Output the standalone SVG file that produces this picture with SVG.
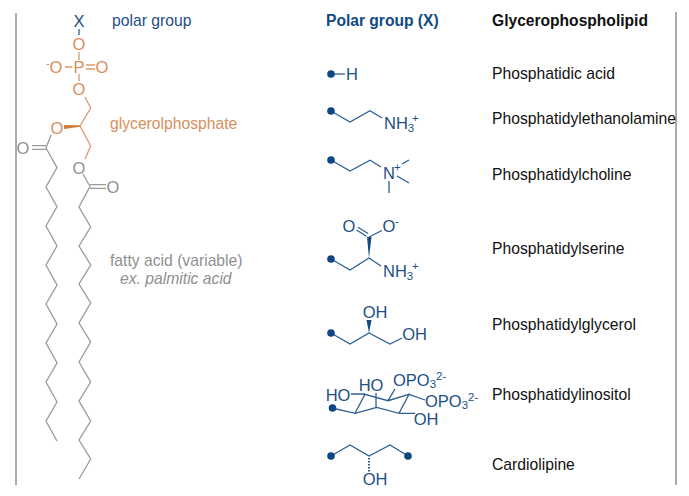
<svg xmlns="http://www.w3.org/2000/svg" width="689" height="496" viewBox="0 0 689 496">
<style>
text{font-family:"Liberation Sans",Arial,sans-serif;font-size:15.7px}
.b{fill:#1d4f85}.o{fill:#d98e5c}.g{fill:#8f8f8f}.k{fill:#111}
.at{font-size:16.5px;text-anchor:middle}
.mol{font-size:16.5px}
.sup{font-size:11.5px}
.sub{font-size:11.5px}
.lb,.lo,.lg{fill:none;stroke-width:1.3;stroke-linejoin:miter}
.lb{stroke:#2f5f90}.lo{stroke:#dc9a6c}.lg{stroke:#9a9a9a}
.d{fill:#0f4583}
.head{font-weight:bold;font-size:15.6px}
</style>
<rect width="689" height="496" fill="#fff"/>
<g id="connectors">
<path d="M16 13V485M676 12V485" fill="none" stroke="#808080" stroke-width="1.3"/>
<path class="lb" d="M79 29V35"/>
<path class="lo" d="M79 52V60M79 74V81M65 67H72M86 65H95M86 69H95M85 97L90.700 108L80 126L90.700 146L85 159"/>
<path d="M80 125.200L64 125L64 129L80 126.800Z" fill="#d07a3c"/>
<path class="lg" d="M51 135L46 148M32 145.700H46M32 149.300H46M46 148L57 167.600L46 187L57 206.800L46 226L57 246L46 265L57 285L46 304L57 324L46 343L57 363L46 382L57 402L46 421L57 441"/>
<path class="lg" d="M83 174L90 186.500M90 184.700H106M90 188.300H106M90 186.500L79 207L90.700 227L79 246L90.700 265L79 284L90.700 303L79 323L90.700 342L79 362L90.700 382L79 401L90.700 421L79 440L90.700 459L79 479"/>
<path class="lb" d="M331 74H345"/>
<path class="lb" d="M331 111L350 122L370 110.700L382 118"/>
<path class="lb" d="M331 160L350 171L370 160.300L381 167M402 164L409 160M397 176L409 183M389 181V193"/>
<path class="lb" d="M331 259L350 270L369 258L381 266M369 237L382 230.500M358 227.300L368 233.500M356.500 230L366.500 236.200"/>
<path d="M369 258L367 237L371.500 237Z" fill="#134a85"/>
<path class="lb" d="M331 333L350 344L369 333L390 344L402 338"/>
<path d="M369 333L366.500 320H371.500Z" fill="#134a85"/>
<path class="lb" d="M332 408L355 413.300L365 394.300L388 400.700L409 394.300L399 413.300L376.700 407.300L355 413.300M351 394H365M376 393V407M388 400.700L395 389M409 394.300L425 400M399 413.300H415"/>
<path class="lb" d="M331 456L350 445L369 456L390 445L408 456"/>
<path d="M369 458V459.500M369 461V462.500M369 464V465.500M369 467V468.500M369 470V471.500" stroke="#2f5f90" stroke-width="2" fill="none"/>
</g>
<g id="phospho-head">
<text class="at b" x="79" y="27">X</text>
<text class="at o" x="79" y="50">O</text>
<text class="at o" x="79" y="73">P</text>
<text class="at o" x="56" y="73">O</text>
<text class="o sup" x="46" y="67">-</text>
<text class="at o" x="102" y="73">O</text>
<text class="at o" x="79" y="95">O</text>
<text class="at o" x="57" y="134">O</text>
<text class="at g" x="23" y="154">O</text>
<text class="at g" x="79" y="174">O</text>
<text class="at g" x="113" y="193">O</text>
</g>
<g id="legend-left">
<text class="b" x="112" y="25.500">polar group</text>
<text class="o" x="110" y="129">glycerolphosphate</text>
<text class="g" x="110" y="266">fatty acid (variable)</text>
<text class="g" x="120" y="284" font-style="italic">ex. palmitic acid</text>
</g>
<g id="headers">
<text class="head" x="326" y="26" fill="#0f4a85">Polar group (X)</text>
<text class="head k" x="492" y="26">Glycerophospholipid</text>
</g>
<g id="phosphatidic-acid">
<circle class="d" cx="331" cy="74" r="3.800"/>
<text class="at b" x="352" y="80">H</text>
<text class="k" x="492" y="79">Phosphatidic acid</text>
</g>
<g id="phosphatidylethanolamine">
<circle class="d" cx="331" cy="111" r="3.800"/>
<text class="b mol" x="384" y="129">NH<tspan class="sub" dy="3">3</tspan></text>
<text class="b sup" x="412" y="122">+</text>
<text class="k" x="492" y="124">Phosphatidylethanolamine</text>
</g>
<g id="phosphatidylcholine">
<circle class="d" cx="331" cy="160" r="3.800"/>
<text class="at b" x="389" y="179">N</text>
<text class="b sup" x="394" y="171">+</text>
<text class="k" x="492" y="180">Phosphatidylcholine</text>
</g>
<g id="phosphatidylserine">
<circle class="d" cx="331" cy="259" r="3.800"/>
<text class="at b" x="349" y="232">O</text>
<text class="at b" x="389" y="232">O</text>
<text class="b sup" x="395" y="225">-</text>
<text class="b mol" x="383" y="277">NH<tspan class="sub" dy="3">3</tspan></text>
<text class="b sup" x="412" y="270">+</text>
<text class="k" x="492" y="254">Phosphatidylserine</text>
</g>
<g id="phosphatidylglycerol">
<circle class="d" cx="331" cy="333" r="3.800"/>
<text class="at b" x="375" y="318">OH</text>
<text class="at b" x="414.500" y="340">OH</text>
<text class="k" x="492" y="330">Phosphatidylglycerol</text>
</g>
<g id="phosphatidylinositol">
<circle class="d" cx="332.500" cy="408" r="3.800"/>
<text class="at b" x="338" y="401">HO</text>
<text class="at b" x="371" y="391">HO</text>
<text class="b mol" x="393" y="386">OPO<tspan class="sub" dy="2">3</tspan><tspan class="sup" dy="-8">2-</tspan></text>
<text class="b mol" x="425" y="407">OPO<tspan class="sub" dy="2">3</tspan><tspan class="sup" dy="-8">2-</tspan></text>
<text class="at b" x="426" y="425">OH</text>
<text class="k" x="492" y="400">Phosphatidylinositol</text>
</g>
<g id="cardiolipine">
<circle class="d" cx="331" cy="456" r="3.800"/>
<circle class="d" cx="408" cy="456" r="3.800"/>
<text class="at b" x="375" y="485">OH</text>
<text class="k" x="492" y="470">Cardiolipine</text>
</g>
</svg>
